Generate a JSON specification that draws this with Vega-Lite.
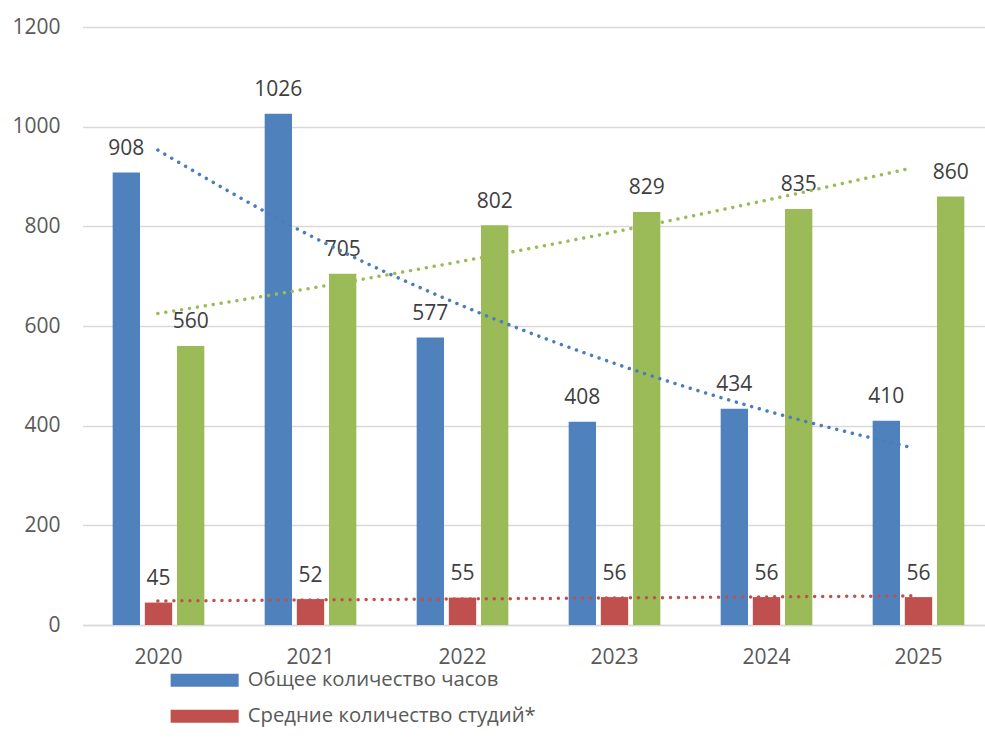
{
  "$schema": "https://vega.github.io/schema/vega-lite/v6.json",
  "width": 902.5,
  "height": 598,
  "autosize": "none",
  "padding": {"left": 82.5, "top": 27, "right": 0, "bottom": 117},
  "background": "white",
  "config": {"view": {"stroke": null}, "font": "Open Sans"},
  "datasets": {
    "bars": [
      {"year": 2020, "series": "Общее количество часов", "value": 908},
      {"year": 2021, "series": "Общее количество часов", "value": 1026},
      {"year": 2022, "series": "Общее количество часов", "value": 577},
      {"year": 2023, "series": "Общее количество часов", "value": 408},
      {"year": 2024, "series": "Общее количество часов", "value": 434},
      {"year": 2025, "series": "Общее количество часов", "value": 410},
      {"year": 2020, "series": "Средние количество студий*", "value": 45},
      {"year": 2021, "series": "Средние количество студий*", "value": 52},
      {"year": 2022, "series": "Средние количество студий*", "value": 55},
      {"year": 2023, "series": "Средние количество студий*", "value": 56},
      {"year": 2024, "series": "Средние количество студий*", "value": 56},
      {"year": 2025, "series": "Средние количество студий*", "value": 56},
      {"year": 2020, "series": "Количество студентов", "value": 560},
      {"year": 2021, "series": "Количество студентов", "value": 705},
      {"year": 2022, "series": "Количество студентов", "value": 802},
      {"year": 2023, "series": "Количество студентов", "value": 829},
      {"year": 2024, "series": "Количество студентов", "value": 835},
      {"year": 2025, "series": "Количество студентов", "value": 860}
    ],
    "trend": [
      {"year": 2020, "series": "Общее количество часов", "value": 953},
      {"year": 2021, "series": "Общее количество часов", "value": 783},
      {"year": 2022, "series": "Общее количество часов", "value": 643},
      {"year": 2023, "series": "Общее количество часов", "value": 528},
      {"year": 2024, "series": "Общее количество часов", "value": 433},
      {"year": 2025, "series": "Общее количество часов", "value": 356},
      {"year": 2020, "series": "Средние количество студий*", "value": 48.3},
      {"year": 2021, "series": "Средние количество студий*", "value": 50.2},
      {"year": 2022, "series": "Средние количество студий*", "value": 52.2},
      {"year": 2023, "series": "Средние количество студий*", "value": 54.2},
      {"year": 2024, "series": "Средние количество студий*", "value": 56.3},
      {"year": 2025, "series": "Средние количество студий*", "value": 58.5},
      {"year": 2020, "series": "Количество студентов", "value": 625},
      {"year": 2021, "series": "Количество студентов", "value": 675},
      {"year": 2022, "series": "Количество студентов", "value": 729},
      {"year": 2023, "series": "Количество студентов", "value": 787},
      {"year": 2024, "series": "Количество студентов", "value": 850},
      {"year": 2025, "series": "Количество студентов", "value": 917}
    ]
  },
  "layer": [
    {
      "data": {"name": "bars"},
      "encoding": {
        "x": {
          "field": "year", "type": "ordinal",
          "scale": {"range": [0, 912], "paddingInner": 0.397, "paddingOuter": 0.1985},
          "axis": {"title": null, "ticks": false, "tickSize": 0, "domainColor": "#d9d9d9", "domainWidth": 1.5, "labelFontSize": 21, "labelColor": "#595959", "labelBaseline": "alphabetic", "labelPadding": 38, "labelAngle": 0, "grid": false}
        },
        "xOffset": {
          "field": "series", "type": "nominal",
          "sort": ["Общее количество часов", "Средние количество студий*", "Количество студентов"],
          "scale": {"paddingInner": 0.15, "paddingOuter": 0}
        },
        "y": {
          "field": "value", "type": "quantitative",
          "scale": {"domain": [0, 1200], "nice": false},
          "axis": {"title": null, "values": [0, 200, 400, 600, 800, 1000, 1200], "format": "d", "ticks": false, "domain": false, "gridColor": "#d9d9d9", "gridWidth": 1.3, "labelFontSize": 21, "labelColor": "#595959", "labelPadding": 22.5}
        }
      },
      "layer": [
        {
          "mark": {"type": "bar"},
          "encoding": {
            "color": {
              "field": "series", "type": "nominal",
              "scale": {"domain": ["Общее количество часов", "Средние количество студий*", "Количество студентов"], "range": ["#4F81BD", "#C0504D", "#9BBB59"]},
              "legend": {
                "orient": "none", "legendX": 112, "legendY": 643, "title": null,
                "values": ["Общее количество часов", "Средние количество студий*"],
                "symbolType": "M-4.86,-0.93H4.86V0.93H-4.86Z", "symbolSize": 196, "symbolStrokeWidth": 0,
                "labelFontSize": 20.3, "labelColor": "#595959", "labelFont": "Open Sans",
                "labelOffset": 33, "rowPadding": 15, "padding": 0, "direction": "vertical", "labelLimit": 600
              }
            }
          }
        },
        {
          "mark": {"type": "text", "dy": -17.5, "baseline": "alphabetic", "fontSize": 21, "color": "#404040"},
          "encoding": {"text": {"field": "value", "type": "quantitative", "format": "d"}}
        }
      ]
    },
    {
      "data": {"name": "trend"},
      "mark": {"type": "line", "interpolate": "monotone", "strokeDash": [0.01, 8], "strokeCap": "round", "strokeWidth": 3.5},
      "encoding": {
        "x": {"field": "year", "type": "quantitative", "scale": {"domain": [2019.5, 2025.55], "range": [0, 912], "nice": false, "zero": false}, "axis": null},
        "y": {"field": "value", "type": "quantitative"},
        "stroke": {
          "field": "series", "type": "nominal",
          "scale": {"domain": ["Общее количество часов", "Средние количество студий*", "Количество студентов"], "range": ["#4A7EBB", "#C0504D", "#9BBB59"]},
          "legend": null
        }
      }
    }
  ],
  "resolve": {"scale": {"x": "independent"}}
}
